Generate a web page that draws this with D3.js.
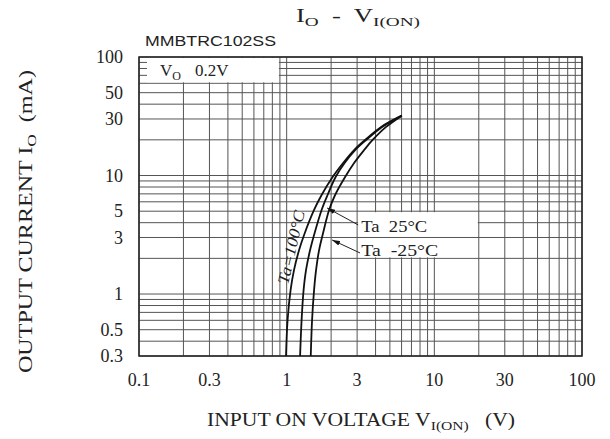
<!DOCTYPE html>
<html>
<head>
<meta charset="utf-8">
<script src="https://cdn.jsdelivr.net/npm/d3@7"></script>
<style>
  body { margin: 0; background: #fff; }
  text { font-family: "Liberation Serif", "Times New Roman", serif; fill: #222; }
</style>
</head>
<body>
<script>
// tick labels
var xTicks = [0.1, 0.3, 1, 3, 10, 30, 100];
var yTicks = [100, 50, 30, 10, 5, 3, 1, 0.5, 0.3];

// curves [V_I(ON) in V, I_O in mA]
var ta100 = [[0.99, 0.3], [1.014, 0.6], [1.063, 1.08], [1.122, 1.6], [1.214, 2.35], [1.312, 3.15], [1.533, 5.12],
             [1.724, 6.85], [2.047, 9.72], [2.411, 12.76], [2.862, 16.4], [3.398, 19.95], [4.362, 25.7], [6.02, 32]];
var ta25 = [[1.233, 0.3], [1.262, 0.6], [1.302, 1.08], [1.353, 1.6], [1.441, 2.35], [1.533, 3.15], [1.724, 5.12],
            [1.892, 6.85], [2.145, 9.72], [2.468, 12.76], [2.907, 16.4], [3.452, 19.95], [4.43, 25.7], [6.02, 32]];
var taM25 = [[1.456, 0.3], [1.486, 0.6], [1.533, 1.08], [1.582, 1.6], [1.658, 2.35], [1.751, 3.15], [1.938, 5.12],
             [2.128, 6.85], [2.487, 9.72], [2.862, 12.76], [3.345, 16.4], [3.82, 19.95], [4.715, 25.7], [6.02, 32]];

// annotation leaders [label side, curve side]
var leader25 = [[3.05, 3.83], [1.88, 5.32]];
var leaderM25 = [[3.14, 2.22], [2.03, 2.86]];

var width = 610, height = 439;

var svg = d3.select("body").append("svg")
    .attr("width", width)
    .attr("height", height);

var x = d3.scaleLog().domain([0.1, 100]).range([139, 582]);
var y = d3.scaleLog().domain([0.3, 100]).range([356, 57]);

// grid lines 1..9 per decade
var xGrid = [], yGrid = [];
[0.1, 1, 10].forEach(function(d) {
    for (var m = 1; m < 10; m++) {
        var v = +(d * m).toPrecision(3);
        xGrid.push(v);
        if (v >= 0.3) yGrid.push(v);
    }
});
xGrid.push(100);
yGrid.push(100);

svg.append("g").selectAll("line")
    .data(xGrid)
    .enter().append("line")
    .attr("x1", function(d) { return x(d); })
    .attr("x2", function(d) { return x(d); })
    .attr("y1", y(100))
    .attr("y2", y(0.3))
    .style("stroke", "#555")
    .style("stroke-width", 1);

svg.append("g").selectAll("line")
    .data(yGrid)
    .enter().append("line")
    .attr("x1", x(0.1))
    .attr("x2", x(100))
    .attr("y1", function(d) { return y(d); })
    .attr("y2", function(d) { return y(d); })
    .style("stroke", "#555")
    .style("stroke-width", 1);

// white box for V_O note (leaves short ticks on the left edge)
svg.append("rect")
    .attr("x", x(0.1) + 8)
    .attr("y", y(100) + 1)
    .attr("width", x(0.9) - x(0.1) - 9)
    .attr("height", y(60) - y(100) - 2)
    .style("fill", "#fff");

// white box behind temperature labels
svg.append("rect")
    .attr("x", x(3) + 1)
    .attr("y", y(5) + 1)
    .attr("width", x(20) - x(3) - 2)
    .attr("height", y(2) - y(5) - 2)
    .style("fill", "#fff");
svg.append("line")
    .attr("x1", x(3)).attr("x2", x(20))
    .attr("y1", y(3)).attr("y2", y(3))
    .style("stroke", "#555");

// frame
svg.append("rect")
    .attr("x", x(0.1))
    .attr("y", y(100))
    .attr("width", x(100) - x(0.1))
    .attr("height", y(0.3) - y(100))
    .style("fill", "none")
    .style("stroke", "#222")
    .style("stroke-width", 1.5);

// tick labels
svg.append("g").selectAll("text")
    .data(xTicks)
    .enter().append("text")
    .attr("x", function(d) { return x(d); })
    .attr("y", 386)
    .attr("text-anchor", "middle")
    .style("font-size", "18px")
    .text(function(d) { return d; });

svg.append("g").selectAll("text")
    .data(yTicks)
    .enter().append("text")
    .attr("x", 123)
    .attr("y", function(d) { return y(d); })
    .attr("dy", "0.35em")
    .attr("text-anchor", "end")
    .style("font-size", "18px")
    .text(function(d) { return d; });

// curves
var line = d3.line()
    .x(function(d) { return x(d[0]); })
    .y(function(d) { return y(d[1]); })
    .curve(d3.curveCatmullRom.alpha(0.5));

[ta100, ta25, taM25].forEach(function(s) {
    svg.append("path")
        .attr("d", line(s))
        .style("fill", "none")
        .style("stroke", "#111")
        .style("stroke-width", 1.8);
});

// leaders with arrowheads
svg.append("defs").append("marker")
    .attr("id", "arrow")
    .attr("markerUnits", "userSpaceOnUse")
    .attr("viewBox", "0 0 10 6")
    .attr("refX", 10)
    .attr("refY", 3)
    .attr("markerWidth", 8)
    .attr("markerHeight", 5)
    .attr("orient", "auto")
    .append("path")
    .attr("d", "M0,0L10,3L0,6Z")
    .style("fill", "#111");

var straight = d3.line()
    .x(function(d) { return x(d[0]); })
    .y(function(d) { return y(d[1]); });

[leader25, leaderM25].forEach(function(l) {
    svg.append("path")
        .attr("d", straight(l))
        .style("stroke", "#222")
        .style("stroke-width", 1)
        .attr("marker-end", "url(#arrow)");
});

svg.append("text")
    .attr("x", x(3.2)).attr("y", y(3.34))
    .style("font-size", "17px")
    .style("white-space", "pre")
    .attr("textLength", 66)
    .attr("lengthAdjust", "spacingAndGlyphs")
    .text("Ta  25°C");

svg.append("text")
    .attr("x", x(3.2)).attr("y", y(2.09))
    .style("font-size", "17px")
    .style("white-space", "pre")
    .attr("textLength", 77)
    .attr("lengthAdjust", "spacingAndGlyphs")
    .text("Ta  -25°C");

svg.append("text")
    .attr("transform", "translate(" + x(1.07) + "," + y(2.49) + ") rotate(-77)")
    .attr("text-anchor", "middle")
    .attr("dy", "0.35em")
    .style("font-size", "16px")
    .style("font-style", "italic")
    .attr("textLength", 75)
    .attr("lengthAdjust", "spacingAndGlyphs")
    .text("Ta=100°C");

// V_O note
var vo = svg.append("text")
    .attr("x", 160).attr("y", 76)
    .style("font-size", "17px");
vo.append("tspan").text("V");
vo.append("tspan").attr("dy", 4).style("font-size", "12px").text("O");
svg.append("text")
    .attr("x", 195).attr("y", 76)
    .style("font-size", "17px")
    .text("0.2V");

svg.append("text")
    .attr("x", 145).attr("y", 46)
    .style("font-family", "'Liberation Sans', Arial, sans-serif")
    .style("font-size", "15px")
    .attr("textLength", 131)
    .attr("lengthAdjust", "spacingAndGlyphs")
    .text("MMBTRC102SS");

// title
var title = svg.append("text")
    .attr("x", 296).attr("y", 22)
    .style("font-size", "18px")
    .style("white-space", "pre")
    .attr("textLength", 124)
    .attr("lengthAdjust", "spacingAndGlyphs");
title.append("tspan").text("I");
title.append("tspan").attr("dy", 4).style("font-size", "13px").text("O");
title.append("tspan").attr("dy", -4).text("  -  V");
title.append("tspan").attr("dy", 4).style("font-size", "13px").text("I(ON)");

// x axis title
var xt = svg.append("text")
    .attr("x", 207).attr("y", 426)
    .style("font-size", "18px")
    .style("white-space", "pre")
    .attr("textLength", 308)
    .attr("lengthAdjust", "spacingAndGlyphs");
xt.append("tspan").text("INPUT ON VOLTAGE V");
xt.append("tspan").attr("dy", 4).style("font-size", "13px").text("I(ON)");
xt.append("tspan").attr("dy", -4).text("   (V)");

// y axis title
var yt = svg.append("text")
    .attr("transform", "translate(32,373) rotate(-90)")
    .style("font-size", "18px")
    .style("white-space", "pre")
    .attr("textLength", 303)
    .attr("lengthAdjust", "spacingAndGlyphs");
yt.append("tspan").text("OUTPUT CURRENT I");
yt.append("tspan").attr("dy", 4).style("font-size", "13px").text("O");
yt.append("tspan").attr("dy", -4).text("  (mA)");
</script>
</body>
</html>
